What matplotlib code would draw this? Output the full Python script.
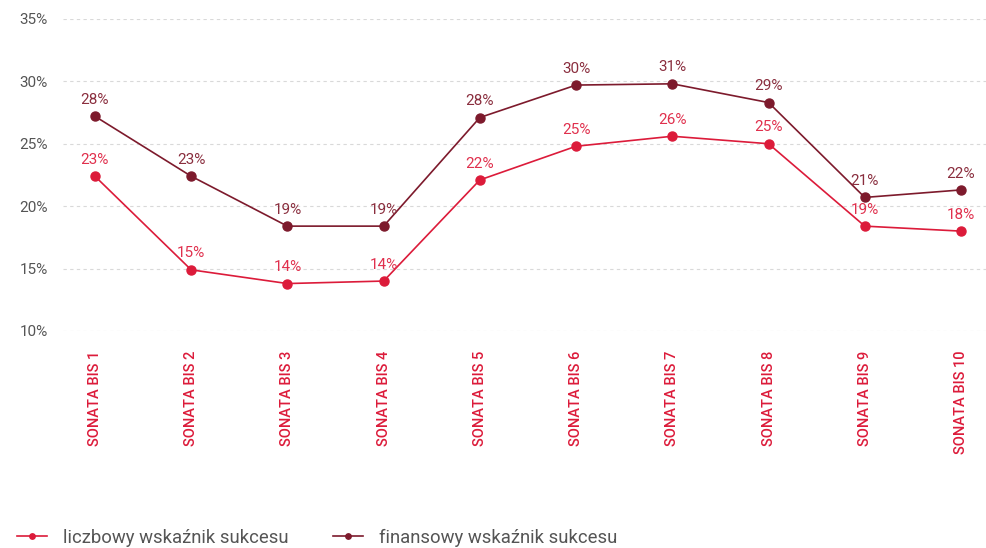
import numpy as np
import matplotlib.pyplot as plt

plt.rcParams['font.family'] = ['Roboto', 'DejaVu Sans']

# data
categories = ["SONATA BIS %d" % i for i in range(1, 11)]
liczbowy = [22.4, 14.9, 13.8, 14.0, 22.1, 24.8, 25.6, 25.0, 18.4, 18.0]
finansowy = [27.2, 22.4, 18.4, 18.4, 27.1, 29.7, 29.8, 28.3, 20.7, 21.3]
liczbowy_lbl = [23, 15, 14, 14, 22, 25, 26, 25, 19, 18]
finansowy_lbl = [28, 23, 19, 19, 28, 30, 31, 29, 21, 22]
yticks = [10, 15, 20, 25, 30, 35]

red = "#DC1B3A"
dark = "#7D1A2C"
grey = "#555555"

fig = plt.figure(figsize=(9.87, 5.48), dpi=100, facecolor='white')
ax = fig.add_axes([0.064, 0.396, 0.936, 0.5695])

x = np.arange(len(categories))

ax.plot(x, liczbowy, color=red, lw=1.2, marker='o', ms=6.5, label="liczbowy wskaźnik sukcesu")
ax.plot(x, finansowy, color=dark, lw=1.2, marker='o', ms=6.5, label="finansowy wskaźnik sukcesu")

for xi, v, l in zip(x, liczbowy, liczbowy_lbl):
    ax.text(xi, v + 0.75, "%d%%" % l, color="#E0304D", fontsize=11,
            ha='center', va='bottom')
for xi, v, l in zip(x, finansowy, finansowy_lbl):
    ax.text(xi, v + 0.75, "%d%%" % l, color="#8A2E3E", fontsize=11,
            ha='center', va='bottom')

ax.set_ylim(10, 35)
ax.set_xlim(-0.33, 9.27)
ax.set_yticks(yticks)
ax.set_yticklabels(["%d%%" % t for t in yticks], color=grey, fontsize=11)
ax.set_xticks(x)
ax.set_xticklabels(categories, rotation=90, color=red, fontsize=10.5, fontweight='medium', va='top')
ax.tick_params(axis='both', length=0)
ax.tick_params(axis='x', pad=14)
ax.tick_params(axis='y', pad=11)

ax.yaxis.grid(True, color='#d9d9d9', linestyle=(0, (3, 3)), lw=0.8)
ax.set_axisbelow(True)
for s in ax.spines.values():
    s.set_visible(False)

ax.legend(loc='lower left', bbox_to_anchor=(-0.068, -0.745), ncol=2, frameon=False,
          labelcolor=grey, handlelength=1.6, markerscale=0.6,
          columnspacing=2.4, handletextpad=0.9, prop={'size': 13.3})

fig.savefig("out.png", dpi=100)
